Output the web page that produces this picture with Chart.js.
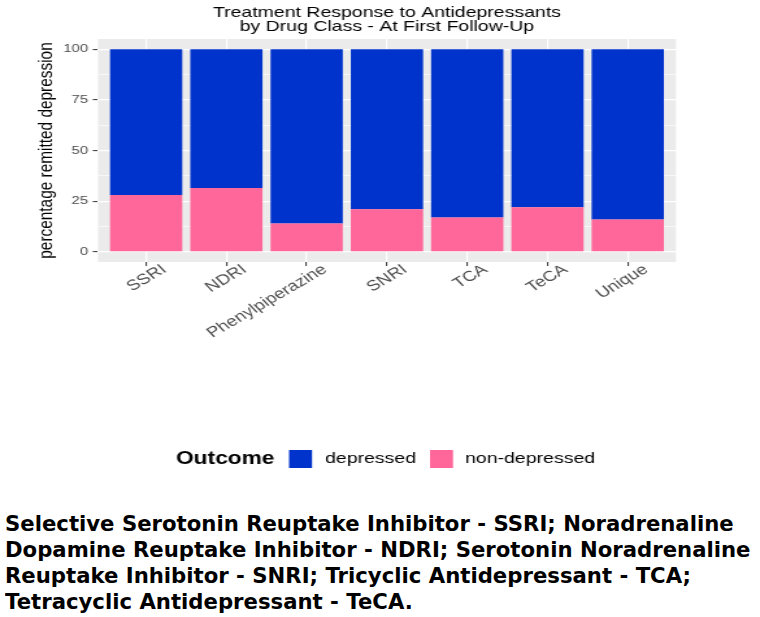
<!DOCTYPE html>
<html>
<head>
<meta charset="utf-8">
<script src="https://cdn.jsdelivr.net/npm/chart.js@4.4.1/dist/chart.umd.min.js"></script>
<style>
  body { margin: 0; background: #fff; width: 760px; height: 617px; overflow: hidden; position: relative; }
  /* the original plot image is stretched sideways, so the canvas is too */
  #wrap { position: absolute; left: 0; top: 0; transform: scaleX(1.2991); transform-origin: 0 0; }
  #caption { position: absolute; left: 5px; top: 511px; font: bold 21px/26px "DejaVu Sans", sans-serif; color: #000; white-space: nowrap; transform: scaleX(1.01); transform-origin: 0 0; }
</style>
</head>
<body>
<div id="wrap"><canvas id="myChart" width="585" height="490"></canvas></div>
<div id="caption">Selective Serotonin Reuptake Inhibitor - SSRI; Noradrenaline<br>Dopamine Reuptake Inhibitor - NDRI; Serotonin Noradrenaline<br>Reuptake Inhibitor - SNRI; Tricyclic Antidepressant - TCA;<br>Tetracyclic Antidepressant - TeCA.</div>
<script>
const drugClasses = ["SSRI", "NDRI", "Phenylpiperazine", "SNRI", "TCA", "TeCA", "Unique"];
const nonDepressed = [28, 31.5, 14, 21, 17, 22, 16];
const depressed = [72, 68.5, 86, 79, 83, 78, 84];
const yTicks = [0, 25, 50, 75, 100];
const titleLines = ["Treatment Response to Antidepressants", "by Drug Class - At First Follow-Up"];
const legendTitle = "Outcome";
const legendOrder = ["depressed", "non-depressed"];

const colors = { "depressed": "#0033CC", "non-depressed": "#FF6699" };
const FONT = '"Liberation Sans", Arial, sans-serif';
Chart.defaults.font.family = FONT;

// minor grid lines halfway between the labelled ticks
const yGrid = [];
yTicks.forEach((v, i) => {
  yGrid.push(v);
  if (i < yTicks.length - 1) yGrid.push((v + yTicks[i + 1]) / 2);
});

const panelPlugin = {
  id: "panel",
  beforeDraw(chart) {
    const { ctx, chartArea: a } = chart;
    ctx.save();
    ctx.fillStyle = "#EBEBEB";
    ctx.fillRect(a.left, a.top, a.right - a.left, a.bottom - a.top);
    ctx.restore();
  },
  afterDraw(chart) {
    const { ctx, chartArea: a } = chart;
    ctx.save();
    ctx.fillStyle = "#000";
    ctx.textAlign = "center";
    ctx.textBaseline = "alphabetic";
    ctx.font = "15px " + FONT;
    const cx = (a.left + a.right) / 2;
    titleLines.forEach((t, i) => ctx.fillText(t, cx, 16.5 + i * 14));

    // legend
    const ly = 459;
    ctx.textAlign = "left";
    ctx.textBaseline = "middle";
    ctx.font = "bold 17.5px " + FONT;
    ctx.fillText(legendTitle, 135.5, ly);
    const keyX = [222.5, 331];
    const textX = [250.2, 358];
    ctx.font = "15px " + FONT;
    legendOrder.forEach((label, i) => {
      const ds = chart.data.datasets.find(d => d.label === label);
      ctx.fillStyle = ds.backgroundColor;
      ctx.fillRect(keyX[i], ly - 9, 17.7, 18);
      ctx.fillStyle = "#000";
      ctx.fillText(label, textX[i], ly);
    });
    ctx.restore();
  }
};

const canvas = document.getElementById("myChart");
const myChart = new Chart(canvas.getContext("2d"), {
  type: "bar",
  data: {
    datasets: [
      {
        label: "non-depressed",
        data: nonDepressed.map((v, i) => ({ x: i + 1, y: v })),
        backgroundColor: colors["non-depressed"],
      },
      {
        label: "depressed",
        data: depressed.map((v, i) => ({ x: i + 1, y: v })),
        backgroundColor: colors["depressed"],
      },
    ],
  },
  options: {
    responsive: false,
    animation: false,
    devicePixelRatio: 1,
    layout: { padding: { top: 39, right: 64.7, left: 0, bottom: 0 } },
    datasets: { bar: { barPercentage: 0.9, categoryPercentage: 1, borderWidth: 0 } },
    plugins: {
      legend: { display: false },
      tooltip: { enabled: false },
    },
    scales: {
      x: {
        type: "linear",
        stacked: true,
        offset: false,
        min: 0.4,
        max: 7.6,
        afterBuildTicks: (scale) => {
          scale.ticks = drugClasses.map((c, i) => ({ value: i + 1 }));
        },
        afterFit: (scale) => { scale.height = 490 - 262; },
        grid: { offset: false, color: "#FFFFFF", lineWidth: 1.2, tickLength: 4, tickColor: "#333333", tickWidth: 1 },
        border: { display: false },
        ticks: {
          autoSkip: false,
          maxRotation: 37,
          minRotation: 37,
          padding: -5,
          labelOffset: 14,
          color: "#4D4D4D",
          font: { size: 14.5 },
          callback: (v) => drugClasses[v - 1],
        },
      },
      y: {
        stacked: true,
        min: -5,
        max: 105,
        afterBuildTicks: (scale) => {
          scale.ticks = yGrid.map(v => ({ value: v }));
        },
        afterFit: (scale) => { scale.width = 75.4; },
        grid: {
          color: "#FFFFFF",
          lineWidth: (c) => yTicks.includes(c.tick.value) ? 1.2 : 0.6,
          tickLength: 4,
          tickColor: (c) => yTicks.includes(c.tick.value) ? "#333333" : "rgba(0,0,0,0)",
          tickWidth: 1,
        },
        border: { display: false },
        ticks: {
          padding: 3.5,
          color: "#4D4D4D",
          font: { size: 11.5 },
          callback: (v) => yTicks.includes(v) ? String(v) : "",
        },
        title: {
          display: true,
          text: "percentage remitted depression",
          color: "#000",
          font: { size: 15.4 },
          padding: { top: 27, bottom: 0 },
        },
      },
    },
  },
  plugins: [panelPlugin],
});
</script>
</body>
</html>
